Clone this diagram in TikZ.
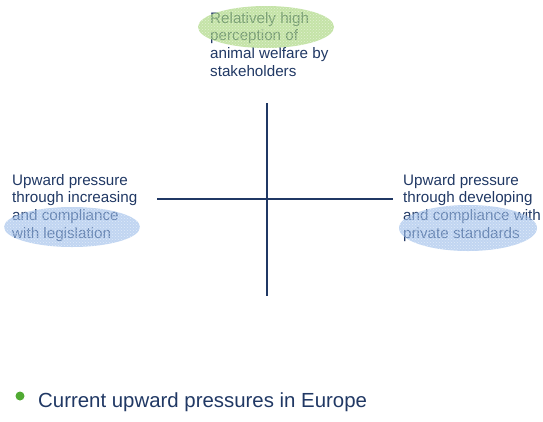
\documentclass[tikz,border=0pt]{standalone}
\usepackage{fontspec}
\setmainfont{Liberation Sans}
\usetikzlibrary{patterns}
\definecolor{navy}{RGB}{32,56,100}
\definecolor{ellgreen}{RGB}{165,212,120}
\definecolor{ellblue}{RGB}{150,185,232}
\definecolor{dotgreen}{RGB}{80,170,50}
\begin{document}
\begin{tikzpicture}[x=1pt,y=-1pt,
  lbl/.style={anchor=north west,inner sep=0pt,align=left,text=navy,
    font=\fontsize{15.2}{17.6}\selectfont},
  axis/.style={draw=navy,line width=1.6pt},
  tex/.style={pattern=crosshatch dots,pattern color=white}]
\useasboundingbox (0,0) rectangle (543,421);
% texts
\node[lbl] (ttop) at (210,12) {Relatively high\\perception of\\animal welfare by\\stakeholders};
\node[lbl] (tleft) at (12,174) {Upward pressure\\through increasing\\and compliance\\with legislation};
\node[lbl] (tright) at (403,174) {Upward pressure\\through developing\\and compliance with\\private standards};
% ellipses
\fill[ellgreen,fill opacity=0.65] (266,27) ellipse [x radius=68, y radius=21];
\fill[tex,fill opacity=0.5] (266,27) ellipse [x radius=68, y radius=21];
\fill[ellblue,fill opacity=0.6] (72,227) ellipse [x radius=68, y radius=20];
\fill[tex,fill opacity=0.5] (72,227) ellipse [x radius=68, y radius=20];
\fill[ellblue,fill opacity=0.6] (468,228) ellipse [x radius=69, y radius=23];
\fill[tex,fill opacity=0.5] (468,228) ellipse [x radius=69, y radius=23];
% axes
\coordinate (vt) at (267,103);
\coordinate (vb) at (267,296);
\coordinate (hl) at (157,199);
\coordinate (hr) at (393,199);
\draw[axis] (vt) -- (vb);
\draw[axis] (hl) -- (hr);
% bullet
\fill[dotgreen] (20,396) circle (4.5);
\node[anchor=base west,inner sep=0pt,text=navy,font=\fontsize{20.4}{24}\selectfont] (bul) at (38,407) {Current upward pressures in Europe};
\end{tikzpicture}
\end{document}
